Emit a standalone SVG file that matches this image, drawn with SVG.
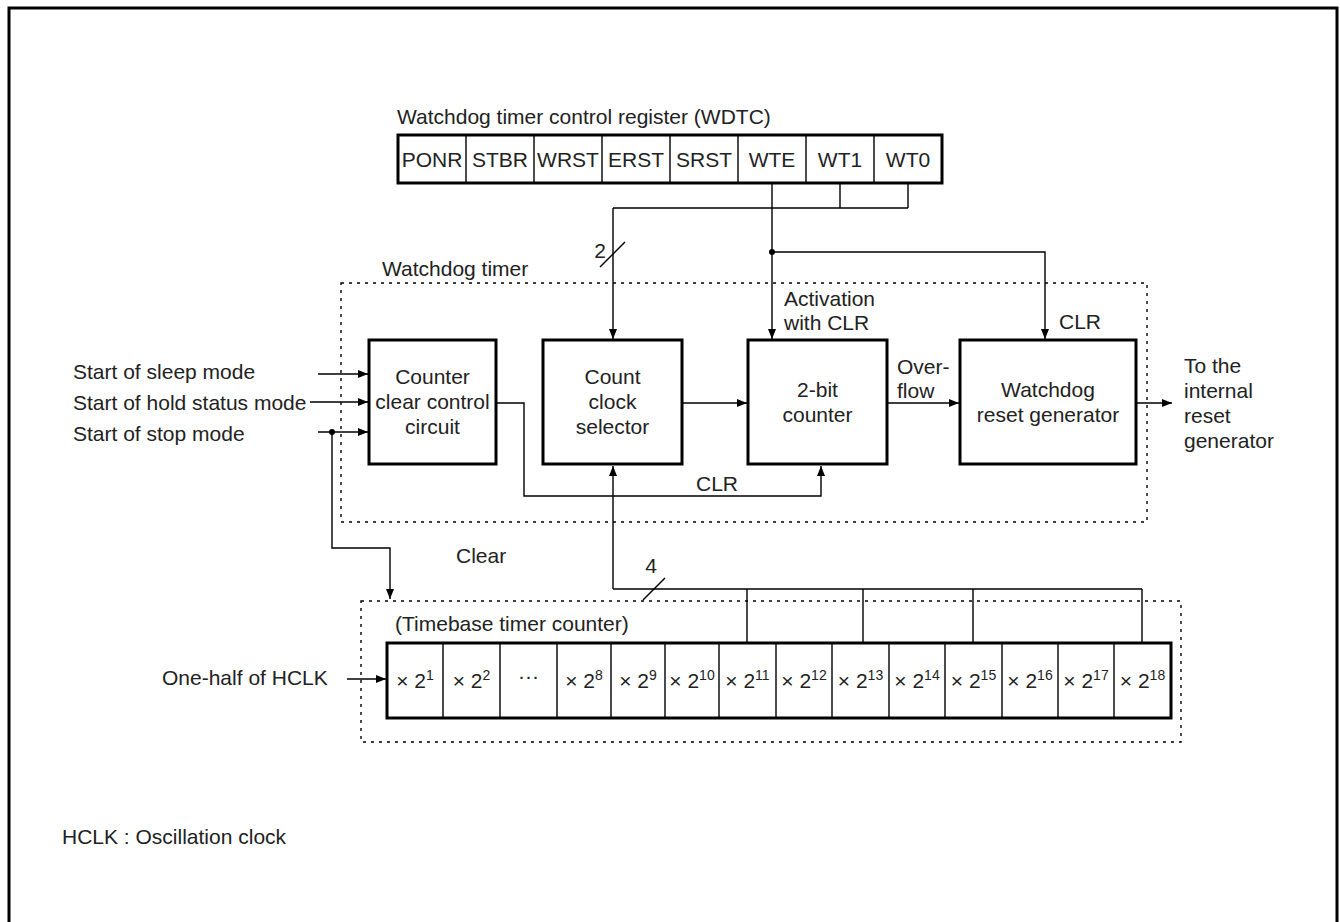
<svg xmlns="http://www.w3.org/2000/svg" width="1340" height="922" viewBox="0 0 1340 922">
<style>
.t{font-family:"Liberation Sans",Arial,sans-serif;font-size:21px;fill:#222}
.m{text-anchor:middle}
.box{fill:none;stroke:#000;stroke-width:3}
.ln{fill:none;stroke:#000;stroke-width:1.4}
.dv{stroke:#000;stroke-width:1.4}
.dt{fill:none;stroke:#000;stroke-width:1.4;stroke-dasharray:3 5}
.sup{font-size:14px}
</style>
<defs>
<marker id="ah" viewBox="0 0 10 8" refX="10" refY="4" markerWidth="10" markerHeight="8" markerUnits="userSpaceOnUse" orient="auto"><path d="M0,0 L10,4 L0,8 z" fill="#000"/></marker>
</defs>
<rect width="1340" height="922" fill="#fff"/>
<path d="M9,930 V8 H1337 V930" fill="none" stroke="#000" stroke-width="3"/>

<g id="wdt-frame">
<rect class="dt" x="341" y="283" width="806" height="239"/>
<text class="t" x="382" y="276">Watchdog timer</text>
</g>
<g id="tbt-frame">
<rect class="dt" x="361" y="601" width="820" height="141"/>
<text class="t" x="395" y="631">(Timebase timer counter)</text>
</g>

<g id="wdtc">
<text class="t" x="397" y="124">Watchdog timer control register (WDTC)</text>
<rect class="box" x="398" y="135" width="544" height="48"/>
<path class="dv" d="M466,135V183M534,135V183M602,135V183M670,135V183M738,135V183M806,135V183M874,135V183"/>
<g class="t m">
<text x="432" y="167">PONR</text><text x="500" y="167">STBR</text><text x="568" y="167">WRST</text><text x="636" y="167">ERST</text>
<text x="704" y="167">SRST</text><text x="772" y="167">WTE</text><text x="840" y="167">WT1</text><text x="908" y="167">WT0</text>
</g>
</g>

<g id="counter-clear">
<rect class="box" x="369" y="340" width="127" height="124"/>
<text class="t m" x="432.5" y="384">Counter</text>
<text class="t m" x="432.5" y="409">clear control</text>
<text class="t m" x="432.5" y="434">circuit</text>
</g>
<g id="count-clock">
<rect class="box" x="543" y="340" width="139" height="124"/>
<text class="t m" x="612.5" y="384">Count</text>
<text class="t m" x="612.5" y="409">clock</text>
<text class="t m" x="612.5" y="434">selector</text>
</g>
<g id="two-bit">
<rect class="box" x="748" y="340" width="139" height="124"/>
<text class="t m" x="817.5" y="397">2-bit</text>
<text class="t m" x="817.5" y="422">counter</text>
</g>
<g id="wd-reset">
<rect class="box" x="960" y="340" width="176" height="124"/>
<text class="t m" x="1048" y="397">Watchdog</text>
<text class="t m" x="1048" y="422">reset generator</text>
</g>

<g id="timebase">
<rect class="box" x="387" y="643" width="784" height="75"/>
<path class="dv" d="M443,643V718M500,643V718M557,643V718M611,643V718M665,643V718M719,643V718M776,643V718M832,643V718M889,643V718M945,643V718M1002,643V718M1058,643V718M1114,643V718"/>
<g class="t m">
<text x="415" y="688">× 2<tspan class="sup" dy="-8">1</tspan></text>
<text x="471.5" y="688">× 2<tspan class="sup" dy="-8">2</tspan></text>
<text x="528.5" y="683">···</text>
<text x="584" y="688">× 2<tspan class="sup" dy="-8">8</tspan></text>
<text x="638" y="688">× 2<tspan class="sup" dy="-8">9</tspan></text>
<text x="692" y="688">× 2<tspan class="sup" dy="-8">10</tspan></text>
<text x="747.5" y="688">× 2<tspan class="sup" dy="-8">11</tspan></text>
<text x="804" y="688">× 2<tspan class="sup" dy="-8">12</tspan></text>
<text x="860.5" y="688">× 2<tspan class="sup" dy="-8">13</tspan></text>
<text x="917" y="688">× 2<tspan class="sup" dy="-8">14</tspan></text>
<text x="973.5" y="688">× 2<tspan class="sup" dy="-8">15</tspan></text>
<text x="1030" y="688">× 2<tspan class="sup" dy="-8">16</tspan></text>
<text x="1086" y="688">× 2<tspan class="sup" dy="-8">17</tspan></text>
<text x="1142.5" y="688">× 2<tspan class="sup" dy="-8">18</tspan></text>
</g>
</g>

<g id="connectors">
<path class="ln" d="M840,183V208M908,183V208M613,208H908"/>
<path class="ln" d="M613,208V339" marker-end="url(#ah)"/>
<path class="ln" d="M600,267L625,242"/>
<path class="ln" d="M772,183V339" marker-end="url(#ah)"/>
<circle cx="772" cy="252" r="3" fill="#000"/>
<path class="ln" d="M772,252H1045V339" marker-end="url(#ah)"/>
<path class="ln" d="M318,374H368" marker-end="url(#ah)"/>
<path class="ln" d="M310,402H368" marker-end="url(#ah)"/>
<path class="ln" d="M318,432H368" marker-end="url(#ah)"/>
<circle cx="332" cy="432" r="3" fill="#000"/>
<path class="ln" d="M332,432V548H390V599" marker-end="url(#ah)"/>
<path class="ln" d="M682,403H747" marker-end="url(#ah)"/>
<path class="ln" d="M887,403H959" marker-end="url(#ah)"/>
<path class="ln" d="M1136,403H1172" marker-end="url(#ah)"/>
<path class="ln" d="M496,403H524V496H821V466" marker-end="url(#ah)"/>
<path class="ln" d="M613,589V466" marker-end="url(#ah)"/>
<path class="ln" d="M613,589H1142M747,589V643M863,589V643M973,589V643M1142,589V643"/>
<path class="ln" d="M643,600L665,578"/>
<path class="ln" d="M347,679H386" marker-end="url(#ah)"/>
</g>

<g id="labels" class="t">
<text x="606" y="258" text-anchor="end">2</text>
<text x="784" y="306">Activation</text>
<text x="784" y="330">with CLR</text>
<text x="1059" y="329">CLR</text>
<text x="897" y="374">Over-</text>
<text x="897" y="398">flow</text>
<text x="1184" y="373">To the</text>
<text x="1184" y="398">internal</text>
<text x="1184" y="423">reset</text>
<text x="1184" y="448">generator</text>
<text x="73" y="379">Start of sleep mode</text>
<text x="73" y="410">Start of hold status mode</text>
<text x="73" y="441">Start of stop mode</text>
<text x="696" y="491">CLR</text>
<text x="456" y="563">Clear</text>
<text x="651" y="573" text-anchor="middle">4</text>
<text x="162" y="685">One-half of HCLK</text>
<text x="62" y="844">HCLK : Oscillation clock</text>
</g>
</svg>
